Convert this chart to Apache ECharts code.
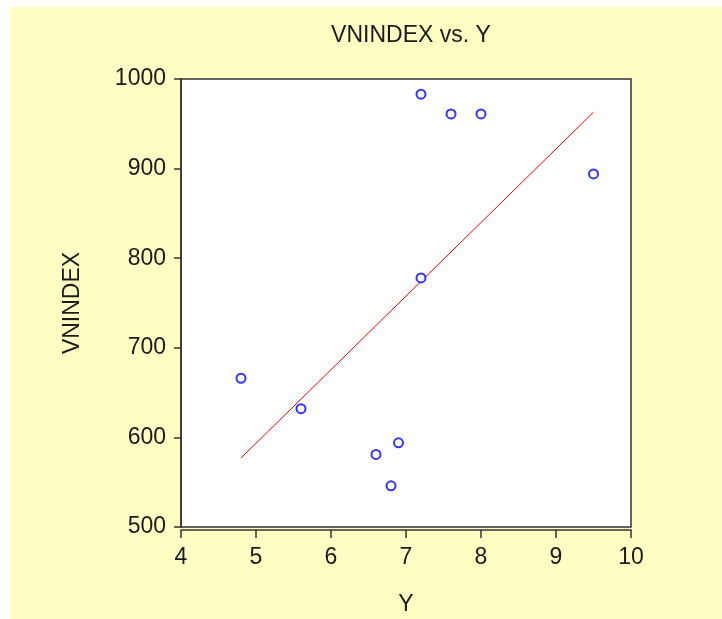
<!DOCTYPE html>
<html>
<head>
<meta charset="utf-8">
<script src="https://cdn.jsdelivr.net/npm/echarts@6/dist/echarts.min.js"></script>
<style>
html,body{margin:0;padding:0;background:#FFFFC4;width:100%;height:100%;overflow:hidden;}
#topw{position:absolute;left:0;top:0;width:100%;height:7px;background:#ffffff;}
#leftw{position:absolute;left:0;top:0;width:10px;height:100%;background:#ffffff;}
#c{position:absolute;left:10px;top:7px;width:720px;height:620px;}
</style>
</head>
<body>
<div id="topw"></div>
<div id="leftw"></div>
<div id="c"></div>
<script>
var titleText = 'VNINDEX vs. Y';
var xName = 'Y';
var yName = 'VNINDEX';
var yValues = [7.2, 7.6, 8.0, 9.5, 4.8, 5.6, 6.6, 6.9, 6.8, 7.2];
var vnindex = [983, 961, 961, 894, 666, 632, 581, 594, 546, 778];
var fitX = [4.8, 9.5];
var fitY = [577, 963];

var scatterData = yValues.map(function (v, i) { return [v, vnindex[i]]; });
var lineData = fitX.map(function (v, i) { return [v, fitY[i]]; });

var font = '"Liberation Sans", Arial, sans-serif';
var txt = '#1a1a1a';
var chart = echarts.init(document.getElementById('c'), null, {renderer: 'canvas'});
chart.setOption({
  backgroundColor: '#FFFFC4',
  animation: false,
  title: {
    text: titleText,
    left: 396,
    textAlign: 'center',
    top: 12,
    textStyle: {fontFamily: font, fontSize: 23, fontWeight: 'normal', color: txt}
  },
  grid: {
    left: 171, right: 99, top: 72, bottom: 100,
    show: true, backgroundColor: '#ffffff', borderColor: '#333333', borderWidth: 1.5
  },
  xAxis: {
    type: 'value', min: 4, max: 10, interval: 1,
    offset: 3,
    name: xName, nameLocation: 'middle', nameGap: 63,
    nameTextStyle: {fontFamily: font, fontSize: 23, color: txt},
    axisLine: {show: true, lineStyle: {color: '#333333', width: 1.5}},
    axisTick: {show: true, length: 8, lineStyle: {color: '#333333', width: 1.5}},
    axisLabel: {fontFamily: font, fontSize: 23, color: txt, margin: 16},
    splitLine: {show: false}
  },
  yAxis: {
    type: 'value', min: 500, max: 1000, interval: 100,
    name: yName, nameLocation: 'middle', nameGap: 97, nameRotate: 90,
    nameTextStyle: {fontFamily: font, fontSize: 23, color: txt},
    axisLine: {show: true, lineStyle: {color: '#333333', width: 1.5}},
    axisTick: {show: true, length: 7, lineStyle: {color: '#333333', width: 1.5}},
    axisLabel: {fontFamily: font, fontSize: 23, color: txt, margin: 15,
      formatter: function (v) { return String(v); }},
    splitLine: {show: false}
  },
  series: [
    {
      type: 'line', data: lineData, showSymbol: false, symbol: 'none',
      lineStyle: {color: '#ff0000', width: 1}, z: 2, silent: true
    },
    {
      type: 'scatter', data: scatterData, symbol: 'emptyCircle', symbolSize: 9,
      itemStyle: {color: '#0000ff', borderWidth: 2}, z: 3
    }
  ]
});
</script>
</body>
</html>
